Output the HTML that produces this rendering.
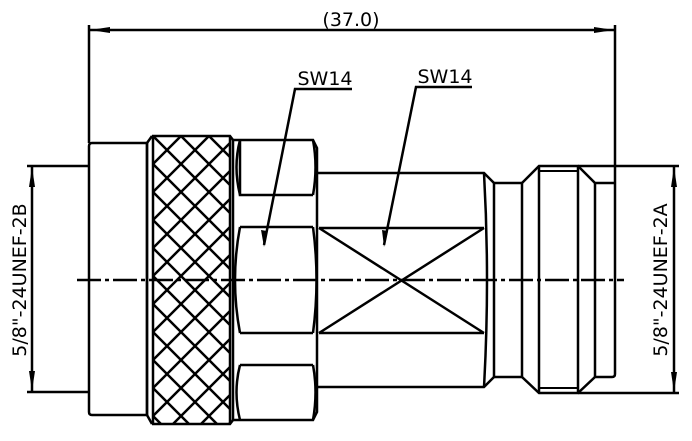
<!DOCTYPE html>
<html><head><meta charset="utf-8"><style>
html,body{margin:0;padding:0;background:#fff}
svg{display:block}
text{font-family:"DejaVu Sans","Liberation Sans",sans-serif;font-size:19px;fill:#000}
</style></head><body>
<svg width="692" height="441" viewBox="0 0 692 441" xmlns="http://www.w3.org/2000/svg">
<defs>
<pattern id="kn" width="28" height="28" patternUnits="userSpaceOnUse" x="153" y="136">
<path d="M-1,-1 L29,29 M-1,27 L1,29 M27,-1 L29,1 M29,-1 L-1,29 M1,-1 L-1,1 M29,27 L27,29" stroke="#000" stroke-width="2.5"/>
</pattern>
<marker id="ar" viewBox="0 0 20 8" refX="20" refY="4" markerWidth="20" markerHeight="8" orient="auto-start-reverse" markerUnits="userSpaceOnUse"><path d="M0,1 L20,4 L0,7 Z" fill="#000"/></marker>
</defs>
<g fill="none" stroke="#000" stroke-width="2.5">
<line x1="89" y1="25" x2="89" y2="143"/>
<line x1="615" y1="25" x2="615" y2="183"/>
<line x1="90" y1="30" x2="614" y2="30" marker-start="url(#ar)" marker-end="url(#ar)"/>
<line x1="27" y1="166" x2="89" y2="166"/>
<line x1="27" y1="392" x2="89" y2="392"/>
<line x1="32" y1="167" x2="32" y2="391" marker-start="url(#ar)" marker-end="url(#ar)"/>
<line x1="578" y1="166" x2="679" y2="166"/>
<line x1="578" y1="393" x2="679" y2="393"/>
<line x1="674" y1="167" x2="674" y2="392" marker-start="url(#ar)" marker-end="url(#ar)"/>
<path d="M92,143 L147,143 L147,415 L92,415 Q89,415 89,412 L89,146 Q89,143 92,143 Z"/>
<path d="M147,143 L152,136 M147,415 L152,424"/>
<rect x="153" y="136" width="77" height="288" fill="url(#kn)" stroke="none"/>
<path d="M152,136 L230,136 L233,140 M152,424 L230,424 L233,420"/>
<line x1="153" y1="136" x2="153" y2="424"/>
<line x1="230" y1="136" x2="230" y2="424"/>
<line x1="147" y1="143" x2="147" y2="415"/>
<path d="M233,140 L313,140 L317,148 L317,412 L313,420 L233,420 Z"/>
<path d="M240,140 L240,195 L313,195 M240,227 L313,227 M240,333 L313,333 M240,365 L313,365"/>
<path d="M240,140 Q233,167 240,195 M240,227 Q230,280 240,333 M240,365 Q233,392 240,420"/>
<path d="M313,140 Q318,167 313,195 M313,227 Q320,280 313,333 M313,365 Q318,392 313,420"/>
<path d="M317,173 L484,173 L494,183 M317,387 L484,387 L494,377"/>
<path d="M319,228 L484,228 M319,333 L484,333 M319,228 L484,333 M319,333 L484,228"/>
<path d="M484,173 Q490,280 484,387"/>
<path d="M494,183 L522,183 L522,377 L494,377 Z"/>
<path d="M522,183 L539,166 L578,166 L595,183 L615,183 M522,377 L539,393 L578,393 L595,377 L612,377 Q615,377 615,374 L615,183"/>
<line x1="539" y1="166" x2="539" y2="393"/>
<line x1="578" y1="166" x2="578" y2="393"/>
<line x1="595" y1="183" x2="595" y2="377"/>
<path d="M539,171 L578,171 M539,388 L578,388" stroke-width="2"/>
<line x1="77" y1="280" x2="624" y2="280" stroke-dasharray="24,4,4,4"/>
<path d="M352,89 L295,89 L264,245"/>
<path d="M472,87 L416,87 L384,245"/>
</g>
<path d="M264,247 L261,230 L267,231 Z M384,247 L382,230 L388,231 Z" fill="#000"/>
<text x="351" y="26" text-anchor="middle">(37.0)</text>
<text x="325" y="85" text-anchor="middle">SW14</text>
<text x="445" y="83" text-anchor="middle">SW14</text>
<text transform="translate(26,280) rotate(-90)" text-anchor="middle">5/8"-24UNEF-2B</text>
<text transform="translate(667,280) rotate(-90)" text-anchor="middle">5/8"-24UNEF-2A</text>
</svg>
</body></html>
